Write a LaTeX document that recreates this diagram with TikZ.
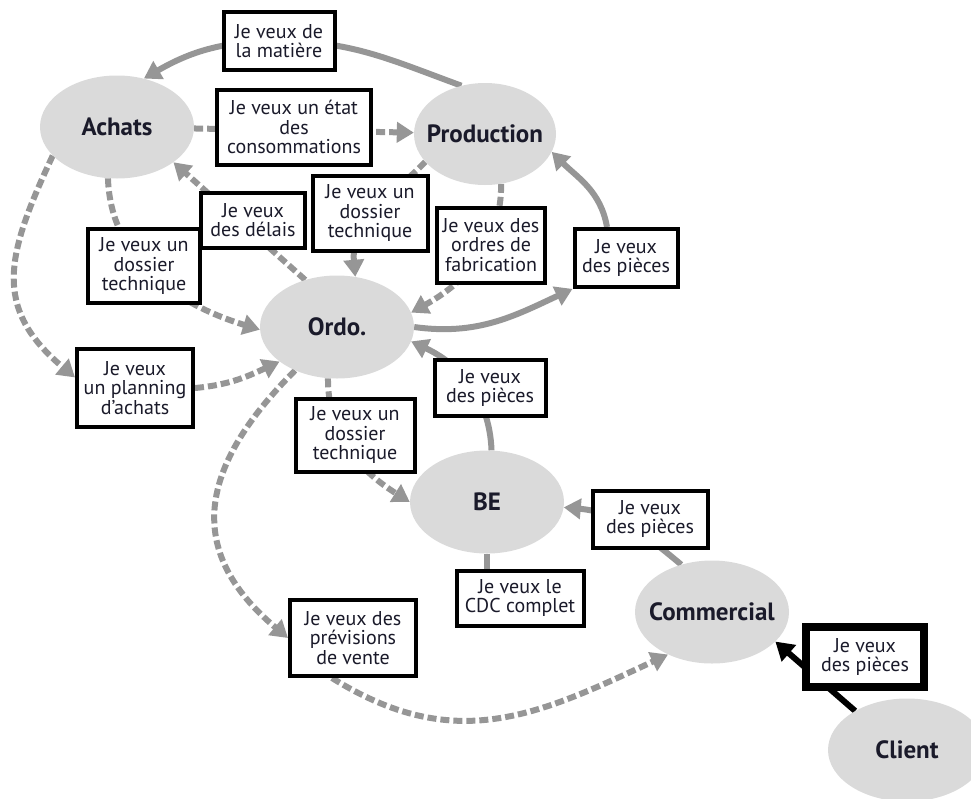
\documentclass[tikz,border=0pt]{standalone}
\usepackage{fontspec}
\setmainfont{PT Sans}
\usetikzlibrary{shapes.geometric,arrows.meta}
\definecolor{ellfill}{RGB}{218,218,218}
\definecolor{linegray}{RGB}{150,150,150}
\definecolor{txt}{RGB}{26,26,42}
\pgfdeclarelayer{bg}
\pgfsetlayers{bg,main}
\newcommand{\ellabel}[1]{\makebox[0pt]{#1}}
\begin{document}
\begin{tikzpicture}[x=1pt,y=1pt,
  ell/.style={ellipse, fill=ellfill, inner sep=0pt, minimum width=154pt, minimum height=103pt,
    font=\bfseries\fontsize{25}{27}\selectfont, text=txt},
  lbl/.style={draw=black, line width=4pt, fill=white, align=center, inner sep=1pt,
    font=\fontsize{20}{19.5}\selectfont, text=txt},
  gsolid/.style={draw=linegray, line width=6pt, -{Triangle[length=17pt,width=20pt]}},
  gplain/.style={draw=linegray, line width=6pt},
  gdash/.style={gsolid, dash pattern=on 9pt off 4pt},
  blk/.style={draw=black, line width=6pt, -{Triangle[length=18pt,width=21pt]}}]
\useasboundingbox (0,0) rectangle (971,-798);
\clip (0,0) rectangle (971,-798);

% ellipses
\node[ell] (achats) at (117,-127) {\ellabel{Achats}};
\node[ell, minimum width=142pt, minimum height=102pt] (production) at (485,-134) {\ellabel{Production}};
\node[ell] (ordo) at (337,-327) {\ellabel{Ordo.}};
\node[ell] (be) at (487,-502) {\ellabel{BE}};
\node[ell] (commercial) at (712,-612) {\ellabel{Commercial}};
\node[ell, minimum width=158pt] (client) at (907,-750) {\ellabel{Client}};

% label boxes
\node[lbl, minimum width=111pt, minimum height=58pt] (b1) at (279,-41) {Je veux de\\la matière};
\node[lbl, minimum width=154pt, minimum height=75pt] (b2) at (294,-127) {Je veux un état\\des\\consommations};
\node[lbl, minimum width=104pt, minimum height=55pt] (b3) at (253,-220) {Je veux\\des délais};
\node[lbl, minimum width=115pt, minimum height=75pt] (b4) at (370,-213) {Je veux un\\dossier\\technique};
\node[lbl, minimum width=112pt, minimum height=74pt] (b5) at (144,-266) {Je veux un\\dossier\\technique};
\node[lbl, minimum width=108pt, minimum height=75pt] (b6) at (491,-245) {Je veux des\\ordres de\\fabrication};
\node[lbl, minimum width=103pt, minimum height=58pt] (b7) at (626,-258) {Je veux\\des pièces};
\node[lbl, minimum width=116pt, minimum height=78pt] (b8) at (135,-388) {Je veux\\un planning\\d'achats};
\node[lbl, minimum width=111pt, minimum height=56pt] (b9) at (490,-388) {Je veux\\des pièces};
\node[lbl, minimum width=119pt, minimum height=73pt] (b10) at (355,-435) {Je veux un\\dossier\\technique};
\node[lbl, minimum width=115pt, minimum height=57pt] (b11) at (650,-519) {Je veux\\des pièces};
\node[lbl, minimum width=127pt, minimum height=55pt] (b12) at (520,-598) {Je veux le\\CDC complet};
\node[lbl, minimum width=126pt, minimum height=76pt] (b13) at (353,-638) {Je veux des\\prévisions\\de vente};
\node[lbl, line width=8pt, minimum width=118pt, minimum height=60pt] (b14) at (865,-657) {Je veux\\des pièces};

\begin{pgfonlayer}{bg}
% Production -> Achats (matiere)
\draw[gsolid] (production.116) to[out=160,in=0] (b1.center) to[out=180,in=30] (achats.61);
% Achats -> Production (consommations)
\draw[gdash] (achats) -- (production);
% Ordo -> Achats (delais)
\draw[gdash] (ordo.124) -- (achats.-32);
% Production -> Ordo (dossier technique)
\draw[gdash] (production.205) to[out=225,in=95] (ordo.70);
% Production -> Ordo (ordres de fabrication)
\draw[gdash] (production.-72) to[out=-90,in=29] (ordo.11);
% Ordo -> box7 -> Production (pieces)
\draw[gsolid] (ordo.east) to[out=-8,in=205] (b7.-150);
\draw[gsolid] ([xshift=-19pt]b7.north) to[out=100,in=-45] (production.-15);
% Achats -> Ordo (dossier technique)
\draw[gdash] (achats.-100) to[out=-88,in=163] (ordo.182);
% Achats -> planning
\draw[gdash] (achats.204) to[out=245,in=140,looseness=1.25] (b8.170);
% planning -> Ordo
\draw[gdash] (b8.east) to[out=5,in=205] (ordo.211);
% Ordo -> previsions -> Commercial
\draw[gdash] (ordo.226) to[out=225,in=140,looseness=1.3] (b13.west);
\draw[gdash] ([xshift=-21pt]b13.south) to[out=-32,in=205,looseness=1.1] (commercial.224);
% Ordo -> BE (dossier technique)
\draw[gdash] (ordo.-100) to[out=-90,in=148] (be.180);
% BE -> Ordo (pieces)
\draw[gsolid] (be.85) to[out=92,in=-25] (ordo.-11);
% Commercial -> BE (pieces)
\draw[gsolid] (commercial.123) to[out=140,in=-5] (be.-4);
% BE -- CDC
\draw[gplain] (be.south) -- (be.south |- b12.north);
% Client -> Commercial
\draw[blk] (client.143) -- (commercial.-25);
\end{pgfonlayer}
\end{tikzpicture}
\end{document}
